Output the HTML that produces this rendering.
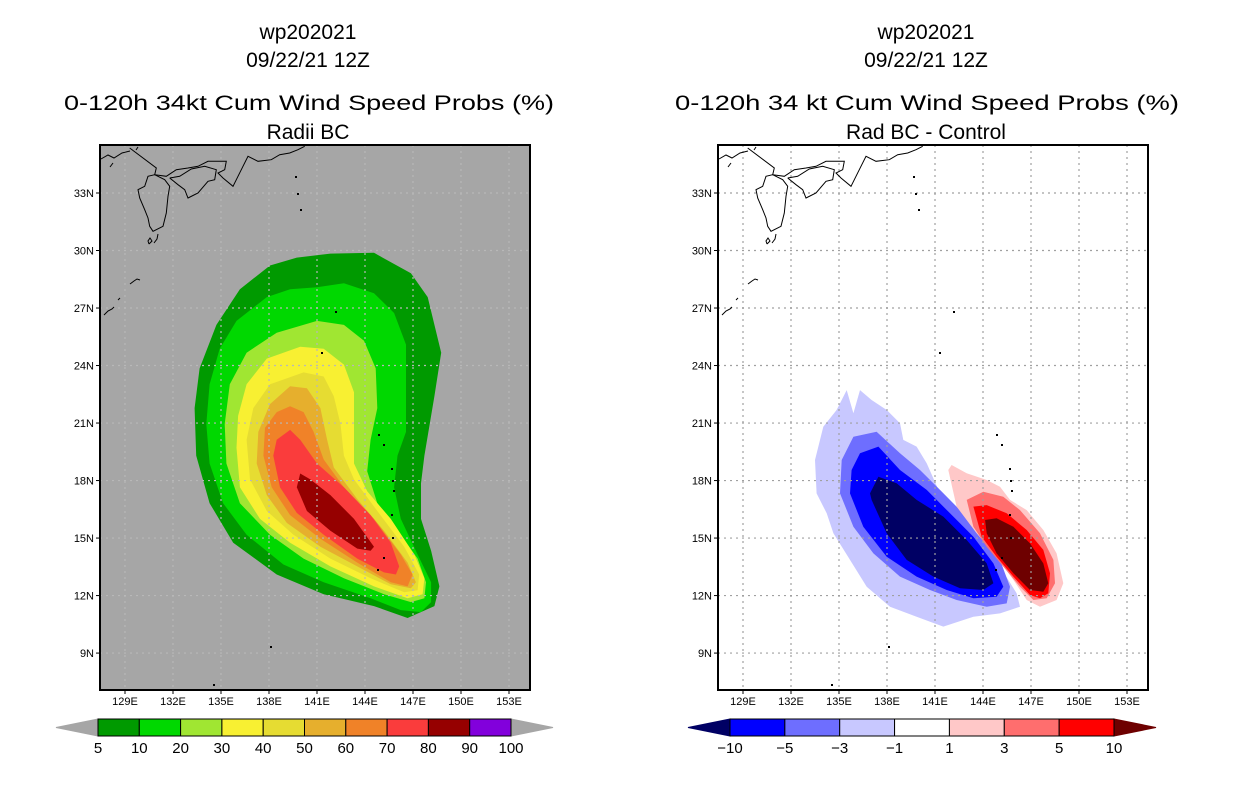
<!DOCTYPE html>
<html><head><meta charset="utf-8"><style>
html,body{margin:0;padding:0;background:#fff;}
svg{display:block;font-family:"Liberation Sans",sans-serif;}
</style></head><body>
<svg id="svg" width="1236" height="800" viewBox="0 0 1236 800" xmlns="http://www.w3.org/2000/svg">
<rect x="0" y="0" width="1236" height="800" fill="#fff"/>
<g font-size="21" text-anchor="middle" fill="#000">
<text x="308" y="39">wp202021</text>
<text x="308" y="67">09/22/21 12Z</text>
<text x="309" y="110" textLength="490" lengthAdjust="spacingAndGlyphs">0-120h 34kt Cum Wind Speed Probs (%)</text>
<text x="308" y="139">Radii BC</text>
</g>
<g font-size="21" text-anchor="middle" fill="#000">
<text x="926" y="39">wp202021</text>
<text x="926" y="67">09/22/21 12Z</text>
<text x="927" y="110" textLength="504" lengthAdjust="spacingAndGlyphs">0-120h 34 kt Cum Wind Speed Probs (%)</text>
<text x="926" y="139">Rad BC - Control</text>
</g>
<g id="left"></g>
<g id="right"></g>
<g id="cbars"></g>
</svg>
<script>
// ---- data: probability contours (lon, lat pairs) ----
const probLevels = [5,10,20,30,40,50,60,70,80,90,100];
const probColors = ["#009a00","#00d800","#a0e632","#f8f032","#e6dc32","#e6af2d","#f08228","#fa3c3c","#960000","#8200dc"];
const prob5 = [[141.84,29.84],[144.56,29.88],[146.87,28.81],[147.92,27.57],[148.76,24.67],[148.34,22.40],[147.71,19.30],[147.50,17.86],[147.50,16.0],[148.13,14.34],[148.65,12.48],[148.34,11.45],[146.66,10.83],[144.56,11.45],[141.42,12.07],[138.48,13.10],[135.76,14.76],[134.29,16.82],[133.45,19.30],[133.35,21.78],[133.66,23.85],[134.71,26.12],[136.18,27.98],[138.06,29.22],[139.74,29.63]];
const prob10 = [[141.0,28.08],[142.68,28.29],[144.56,27.77],[145.82,26.74],[146.56,25.09],[146.56,22.61],[146.56,20.54],[146.03,19.30],[145.82,17.65],[146.24,16.0],[147.29,14.14],[148.13,12.69],[148.13,11.66],[147.50,11.14],[146.24,11.24],[144.35,11.86],[141.42,12.69],[138.90,13.62],[136.60,15.17],[135.13,16.82],[134.29,18.89],[134.08,20.95],[134.29,23.02],[134.92,24.88],[135.97,26.33],[137.86,27.57],[139.32,27.98]];
const prob20 = [[141.0,26.33],[142.68,26.12],[143.94,25.29],[144.67,23.85],[144.77,21.78],[144.35,20.13],[144.14,18.48],[144.77,16.82],[146.03,15.38],[147.29,13.93],[147.81,12.69],[147.71,11.86],[146.87,11.66],[145.19,12.07],[142.68,12.90],[140.16,13.93],[138.06,15.17],[136.18,16.82],[135.34,18.89],[135.23,20.95],[135.55,23.02],[136.60,24.67],[138.48,25.71]];
const prob30 = [[139.95,24.98],[141.42,24.88],[142.68,24.05],[143.31,22.61],[143.31,20.54],[143.31,18.89],[144.14,17.44],[145.61,16.0],[147.08,14.14],[147.71,12.90],[147.60,12.07],[146.66,11.86],[144.56,12.48],[141.84,13.52],[139.32,14.76],[137.44,16.0],[136.18,17.65],[135.97,19.71],[136.07,21.37],[136.60,23.02],[137.86,24.36]];
const prob40 = [[140.16,23.64],[141.42,23.43],[142.05,22.40],[142.47,20.95],[142.68,19.30],[143.31,18.06],[144.77,16.41],[146.45,14.55],[147.39,13.10],[147.29,12.28],[146.45,12.17],[144.35,12.90],[141.84,13.93],[139.53,15.17],[137.86,16.41],[136.81,18.06],[136.60,20.13],[137.02,21.78],[138.06,23.02]];
const prob50 = [[139.32,22.92],[140.37,22.81],[141.21,21.78],[141.63,20.13],[142.05,18.68],[143.52,17.03],[145.19,15.38],[146.66,13.72],[147.18,12.69],[146.87,12.38],[145.61,12.59],[143.52,13.52],[141.21,14.55],[139.11,15.79],[137.86,17.24],[137.23,18.89],[137.33,20.54],[138.06,21.99]];
const prob60 = [[139.32,21.88],[140.16,21.57],[140.79,20.54],[141.42,19.10],[142.68,17.65],[144.56,16.0],[146.24,14.14],[146.97,13.10],[146.66,12.48],[145.61,12.69],[143.52,13.72],[141.21,14.96],[139.32,16.20],[138.17,17.65],[137.65,19.30],[137.75,20.75],[138.48,21.57]];
const prob70 = [[139.32,20.64],[139.95,20.13],[141.0,18.89],[142.68,17.65],[144.35,16.20],[145.61,14.76],[146.14,13.52],[145.93,13.10],[145.19,13.21],[143.52,13.93],[141.42,15.17],[139.74,16.31],[138.69,17.65],[138.27,19.30],[138.48,20.13]];
const prob80 = [[139.95,18.37],[140.58,18.06],[141.84,17.24],[143.31,16.0],[144.56,14.55],[144.35,14.34],[143.52,14.45],[141.84,15.38],[140.37,16.41],[139.74,17.65]];
// ---- data: difference contours ----
const diffLevels = [-10,-5,-3,-1,1,3,5,10];
const diffColors = ["#000064","#0000ff","#6e6eff","#c8c8ff","#ffffff","#ffc8c8","#ff6e6e","#ff0000","#6e0000"];
const diffNeg1 = [[135.48,22.72],[135.90,21.51],[136.31,22.72],[137.04,22.20],[137.98,21.68],[138.81,20.99],[139.02,20.12],[139.85,19.77],[140.48,18.90],[141.31,17.33],[142.56,16.12],[143.81,14.90],[145.06,13.51],[146.10,12.12],[146.31,11.42],[145.06,11.07],[143.40,10.90],[141.52,10.38],[139.85,10.90],[138.19,11.42],[136.73,12.46],[135.69,13.86],[134.65,15.25],[134.23,16.29],[133.60,17.33],[133.50,19.07],[134.02,20.81],[134.85,21.68]];
const diffNeg3 = [[135.90,20.29],[137.35,20.55],[138.81,19.42],[140.06,18.55],[141.31,17.51],[142.56,16.46],[143.81,15.25],[145.06,13.86],[145.69,12.46],[145.48,11.59],[144.23,11.42],[142.35,11.77],[140.69,12.29],[138.81,12.99],[137.15,14.20],[135.90,15.59],[135.06,17.33],[135.17,19.07]];
const diffNeg5 = [[136.31,19.42],[137.46,19.77],[138.81,18.55],[140.48,17.51],[141.94,16.29],[143.40,15.07],[144.65,13.68],[145.27,12.46],[144.85,11.94],[143.40,11.86],[141.73,12.29],[139.85,12.99],[137.98,14.03],[136.52,15.59],[135.69,17.33],[135.79,18.55]];
const diffNeg10 = [[137.46,18.20],[138.60,17.86],[139.85,16.99],[141.52,16.12],[142.98,14.90],[144.23,13.68],[144.65,12.64],[144.02,12.29],[142.56,12.38],[140.90,12.99],[139.23,13.86],[137.98,15.25],[137.04,16.99],[136.94,17.33]];
const diffPos1 = [[142.04,18.81],[142.98,18.38],[144.23,18.03],[145.06,17.68],[145.69,16.99],[146.73,16.46],[147.77,15.42],[148.60,14.20],[149.02,12.64],[148.60,11.77],[147.56,11.42],[146.73,11.77],[145.90,12.81],[144.85,14.03],[143.60,15.25],[142.35,16.64],[141.83,18.55]];
const diffPos3 = [[142.98,16.99],[144.02,17.42],[145.27,17.16],[146.31,16.46],[147.56,15.25],[148.40,13.86],[148.50,12.64],[147.98,11.86],[147.15,11.77],[146.31,12.46],[145.27,13.51],[144.23,14.55],[143.40,15.59]];
const diffPos5 = [[143.40,16.64],[144.23,16.72],[145.48,16.29],[146.73,15.42],[147.77,14.38],[148.19,13.16],[148.08,12.12],[147.56,11.86],[146.94,12.03],[145.90,12.99],[144.85,14.03],[143.92,15.07]];
const diffPos10 = [[144.13,15.94],[144.85,16.03],[145.90,15.59],[146.94,14.72],[147.77,13.68],[148.08,12.64],[147.77,12.20],[146.94,12.29],[145.90,13.16],[144.85,14.20],[144.23,15.25]];
// ---- axis ticks ----
const lonTicks = [129,132,135,138,141,144,147,150,153];
const lonLabels = ["129E","132E","135E","138E","141E","144E","147E","150E","153E"];
const latTicks = [9,12,15,18,21,24,27,30,33];
const latLabels = ["9N","12N","15N","18N","21N","24N","27N","30N","33N"];

const NS = "http://www.w3.org/2000/svg";
function mk(tag, attrs, parent){const e=document.createElementNS(NS,tag);for(const k in attrs)e.setAttribute(k,attrs[k]);if(parent)parent.appendChild(e);return e;}
const BOX = {l:100,r:530,t:145,b:690};
function X(lon, ox){return ox + 317 + (lon-141)*16;}
function Y(lat){return 193 + (33-lat)*19.17;}
function poly(pts, ox){return pts.map(p=>X(p[0],ox).toFixed(1)+","+Y(p[1]).toFixed(1)).join(" ");}

// coastline (basemap decoration, pixel offsets from box corner)
const coastLines = [
 [[29.7,3],[56.3,23],[54.7,29.7],[66.3,31.3],[76.3,24.7],[88,23],[98,21.3],[108,16.3],[118,16.3],[126.3,16.3],[124.7,24.7],[118,28],[123,33],[133,41.3],[138,31.3],[141.3,24.7],[148,11.3],[158,16.3],[171.3,14.7],[179.7,9.7],[189.7,8],[198,4.7],[204.7,1.3]],
 [[69.7,33],[78,39.7],[84.7,44.7],[88,53],[98,48],[108,36.3],[114.7,34.7],[116.3,24.7],[104.7,21.3],[91.3,24],[79.7,31.3],[69.7,33]],
 [[54.7,29.7],[48,31.3],[44.7,41.3],[38,44.7],[39.7,53],[44.7,64.7],[48,73],[49.7,81.3],[53,86.3],[63,81.3],[66.3,68],[68,51.3],[69.7,41.3],[64.7,34.7],[54.7,29.7]],
 [[1,14],[8,10],[14,13],[22,8],[30,6]],
 [[54,98],[57,94],[58,89]],[[49,99],[52,96],[50,93],[48,96],[49,99]],
 [[30,139],[34,136],[37,134],[40,135]],[[18,155],[20,153]],[[4,170],[8,166],[12,164],[14,162]],[[10,22],[13,18]],
 [[36,5],[38,2]]
];
const islandMarks = [[235,166],[221,207],[278,289],[283,299],[291,323],[292,335],[293,345],[291,369],[292,392],[283,412],[277,424],[170,501],[113,539],[195,31],[197,48],[200,64]];

function drawPanel(g, ox, filled, fills, cols, bg, gridCol, panel){
  const box = mk("rect",{x:BOX.l+ox,y:BOX.t,width:BOX.r-BOX.l,height:BOX.b-BOX.t,fill:bg},g);
  
  
  const cid = "clip"+panel;
  const cp = mk("clipPath",{id:cid},g);
  mk("rect",{x:BOX.l+ox,y:BOX.t,width:BOX.r-BOX.l,height:BOX.b-BOX.t},cp);
  const cg = mk("g",{"clip-path":"url(#"+cid+")"},g);
  
  
  filled.forEach((pts,i)=>{
    const p = mk("polygon",{points:poly(pts,ox),fill:cols[i]},cg);
    
    
  });
  // grid
  lonTicks.forEach(lon=>{
    const l = mk("line",{x1:X(lon,ox),x2:X(lon,ox),y1:BOX.t,y2:BOX.b,stroke:gridCol,"stroke-width":1.2,"stroke-dasharray":"2,4"},cg);
    
    
  });
  latTicks.forEach(lat=>{
    const l = mk("line",{x1:BOX.l+ox,x2:BOX.r+ox,y1:Y(lat),y2:Y(lat),stroke:gridCol,"stroke-width":1.2,"stroke-dasharray":"2,4"},cg);
    
    
  });
  // coast
  coastLines.forEach(c=>{
    const pl = mk("polyline",{points:c.map(p=>(BOX.l+ox+p[0])+","+(BOX.t+p[1])).join(" "),fill:"none",stroke:"#000","stroke-width":1},cg);
    
    
  });
  islandMarks.forEach(m=>{
    const r = mk("rect",{x:BOX.l+ox+m[0],y:BOX.t+m[1],width:2,height:2,fill:"#000"},cg);
    
    
  });
  const fr = mk("rect",{x:BOX.l+ox,y:BOX.t,width:BOX.r-BOX.l,height:BOX.b-BOX.t,fill:"none",stroke:"#000","stroke-width":2},g);
  
  
  // ticks + labels
  lonTicks.forEach((lon,i)=>{
    mk("line",{x1:X(lon,ox),x2:X(lon,ox),y1:BOX.b,y2:BOX.b+4,stroke:"#000"},g);
    const t = mk("text",{x:X(lon,ox),y:BOX.b+15,"font-size":11,"text-anchor":"middle"},g);
    t.textContent = lonLabels[i];
    
    
  });
  latTicks.forEach((lat,i)=>{
    mk("line",{x1:BOX.l+ox-4,x2:BOX.l+ox,y1:Y(lat),y2:Y(lat),stroke:"#000"},g);
    const t = mk("text",{x:BOX.l+ox-6,y:Y(lat)+4,"font-size":11,"text-anchor":"end"},g);
    t.textContent = latLabels[i];
    
    
  });
}

drawPanel(document.getElementById("left"),0,
  [prob5,prob10,prob20,prob30,prob40,prob50,prob60,prob70,prob80],
  ["5","10","20","30","40","50","60","70","80"], probColors, "#a6a6a6", "#b8b8b8","left");
drawPanel(document.getElementById("right"),618,
  [diffNeg1,diffNeg3,diffNeg5,diffNeg10,diffPos1,diffPos3,diffPos5,diffPos10],
  ["neg1","neg3","neg5","neg10","pos1","pos3","pos5","pos10"],
  ["#c8c8ff","#6e6eff","#0000ff","#000064","#ffc8c8","#ff6e6e","#ff0000","#6e0000"], "#ffffff", "#a0a0a0","right");

// colorbars
function colorbar(g, x0, x1, labels, cols, leftTri, rightTri, name){
  const y0=719, y1=736, n=cols.length, w=(x1-x0)/n;
  const lt = mk("polygon",{points:`${x0},${y0} ${x0-42},${(y0+y1)/2} ${x0},${y1}`,fill:leftTri,stroke:leftTri},g);
  
  
  const rt = mk("polygon",{points:`${x1},${y0} ${x1+42},${(y0+y1)/2} ${x1},${y1}`,fill:rightTri,stroke:rightTri},g);
  
  
  cols.forEach((c,i)=>{
    const r = mk("rect",{x:x0+i*w,y:y0,width:w,height:y1-y0,fill:c,stroke:"#000","stroke-width":1},g);
    
    
  });
  labels.forEach((lb,i)=>{
    const t = mk("text",{x:x0+i*w,y:753,"font-size":15,"text-anchor":"middle"},g);
    t.textContent = String(lb).replace("-","\u2212");
    
    
  });
}
const cb = document.getElementById("cbars");
colorbar(cb, 98, 511, probLevels, probColors, "#a6a6a6", "#a6a6a6", "left-colorbar");
colorbar(cb, 730, 1114, diffLevels, diffColors.slice(1,8), diffColors[0], diffColors[8], "right-colorbar");
</script>
</body></html>
